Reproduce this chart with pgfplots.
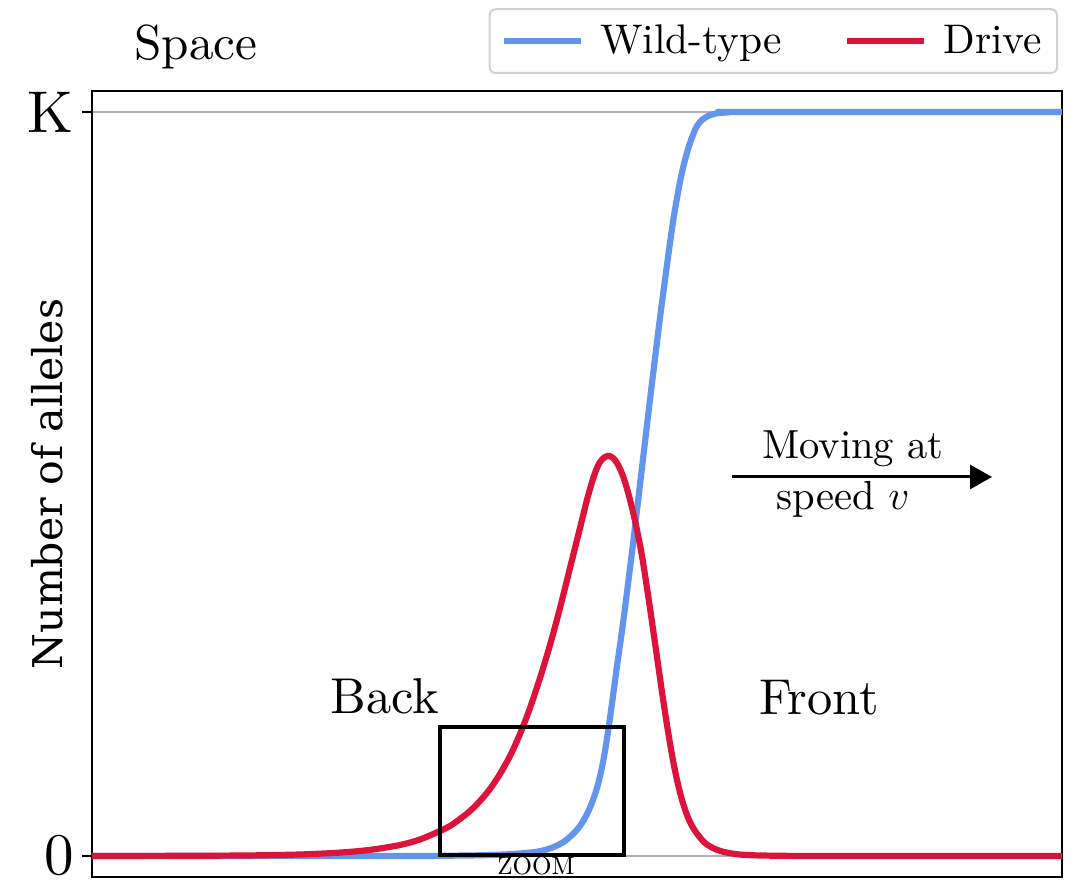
\documentclass[border=0pt]{standalone}
\usepackage{fontspec}
\setmainfont{lmroman10-regular}[Extension=.otf]
\usepackage{pgfplots}
\pgfplotsset{compat=1.18}
\usetikzlibrary{arrows.meta}
\newfontfamily\dvs{DejaVu Serif}
\definecolor{wt}{RGB}{100,149,237}
\definecolor{dr}{RGB}{220,20,60}
\begin{document}
\begin{tikzpicture}
\begin{axis}[
  width=485pt, height=393pt, scale only axis,
  xmin=92, xmax=1062, ymin=-21, ymax=765,
  xtick=\empty, ytick={0,744}, yticklabels={0,K},
  tick align=outside, ytick pos=left,
  major tick length=5pt,
  tick style={line width=1pt, black},
  ymajorgrids, grid style={line width=0.9pt, color=black!30},
  axis line style={line width=0.9pt},
  yticklabel style={font=\fontsize{29.5}{29.5}\selectfont, inner sep=0pt, xshift=-4pt},
  ylabel={Number of alleles},
  ylabel style={font=\dvs\fontsize{20.5}{20.5}\selectfont, at={(axis description cs:-0.0464,0.5)}, anchor=center},
  clip=false,
  legend columns=2,
  legend cell align=left,
  legend image code/.code={\draw[#1, line width=3pt] (0pt,0pt) -- (38.5pt,0pt);},
  legend style={at={(1,1)}, anchor=south east, xshift=-2pt, yshift=8.5pt,
    draw=black!18, rounded corners=3pt, line width=1pt,
    inner xsep=5.5pt, inner ysep=6pt,
    font=\fontsize{20.7}{20.7}\selectfont,
    /tikz/every odd column/.append style={column sep=6.3pt},
    /tikz/every even column/.append style={column sep=29pt}},
]
\addplot[wt, line width=3.1pt, smooth] table {
92 0
400 0
450 0.3
480 0.7
500 1.3
520 2.5
535 4
545 6
555 9.5
565 15
575 24
582 33
588 44
593 56
597 68
601 84
605 105
609 131
613 160
617 190
621 218
625 248
629 280
633 312
637 346
641 380
645 414
649 448
653 481
657 514
661 546
665 576
669 606
673 634
677 658
681 679
685 696
689 710
693 721
697 730
702 736
708 740
716 742.5
726 743.5
740 744
1062 744
};
\addlegendentry{Wild-type}
\addplot[dr, line width=3.1pt, smooth] table {
92 0
150 0.1
200 0.25
250 0.55
300 1.5
340 3.4
370 6.1
400 11
420 16.5
440 25
450 30
460 37
470 45
480 55
490 67
500 82
510 100
520 122
530 148
540 178
550 211
560 248
570 288
580 328
588 360
595 383
600 394
605 399
609 400
613 398
617 393
621 385
625 374
629 360
633 344
637 326
642 300
647 268
652 234
657 199
662 164
667 131
672 101
677 76
682 56
687 41
692 30
698 21
705 13
713 8
722 4.5
735 2
750 0.8
780 0.2
830 0
1062 0
};
\addlegendentry{Drive}
\draw[black, line width=1.6pt] (axis cs:440,1) rectangle (axis cs:624,129);
\node[anchor=base, font=\fontsize{12.5}{12.5}\selectfont, inner sep=0pt] at (axis cs:536,-19) {ZOOM};
\node[anchor=base, font=\fontsize{25.2}{25.2}\selectfont, inner sep=0pt] at (axis cs:385,142) {Back};
\node[anchor=base, font=\fontsize{25.2}{25.2}\selectfont, inner sep=0pt] at (axis cs:819,141) {Front};
\node[anchor=base, font=\fontsize{20.3}{20.3}\selectfont, inner sep=0pt] at (axis cs:853,397) {Moving at};
\node[anchor=base, font=\fontsize{20.3}{20.3}\selectfont, inner sep=0pt] at (axis cs:843,346) {speed $v$};
\draw[line width=1.5pt, -{Triangle[length=11pt,width=12pt]}] (axis cs:732,379) -- (axis cs:992,379);
\node[anchor=base, font=\fontsize{24.6}{24.6}\selectfont, inner sep=0pt] at (axis cs:196,796) {Space};
\end{axis}
\pgfresetboundingbox
\path[use as bounding box] ([xshift=-46pt,yshift=-7.5pt]current axis.south west) rectangle ([xshift=13pt,yshift=45.5pt]current axis.north east);
\end{tikzpicture}
\end{document}
